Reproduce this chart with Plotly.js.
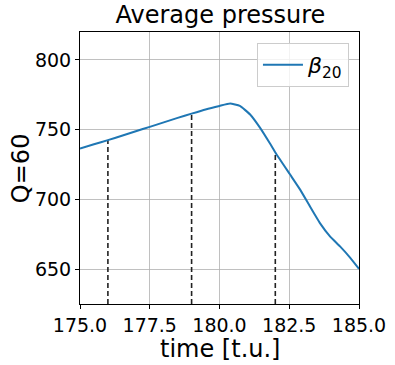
<!DOCTYPE html>
<html>
<head>
<meta charset="utf-8">
<script src="https://cdn.plot.ly/plotly-3.0.1.min.js"></script>
<style>
  html, body { margin: 0; padding: 0; background: #fff; }
  #chart { width: 395px; height: 365px; }
</style>
</head>
<body>
<div id="chart"></div>
<script>
// Average pressure curve
const time = [175.0, 175.5, 176.0, 176.5, 177.0, 177.5, 178.0, 178.5, 179.0, 179.5,
              180.0, 180.38, 180.73, 181.09, 181.45, 181.81, 182.03, 182.53, 182.89,
              183.24, 183.6, 183.96, 184.32, 184.68, 185.0];
const pressure = [736.5, 739.5, 742.5, 745.6, 748.8, 752.0, 755.2, 758.4, 761.5, 764.5,
                  767.0, 768.7, 767.0, 761.0, 751.4, 740.0, 732.7, 717.8, 707.0,
                  695.0, 683.0, 673.5, 666.3, 658.3, 650.2];

// dashed markers: time and the curve value they reach up to
const markTimes = [176, 179, 182];
const markValues = [742.5, 761.5, 732.5];

const yRange = [625, 820];
const xRange = [175, 185];

const traces = [];

markTimes.forEach((t, i) => {
    traces.push({
        x: [t, t],
        y: [yRange[0], markValues[i]],
        mode: 'lines',
        line: { color: '#222222', width: 1.6, dash: '5px,3px' },
        showlegend: false,
        hoverinfo: 'skip'
    });
});

traces.push({
    x: time,
    y: pressure,
    mode: 'lines',
    name: '<i>β</i><sub>20</sub>',
    line: { color: '#1f77b4', width: 2, shape: 'spline', smoothing: 0.4 }
});

const axisFont = { family: 'DejaVu Sans', size: 19, color: '#000' };
const labelFont = { family: 'DejaVu Sans', size: 24, color: '#000' };

const layout = {
    width: 395,
    height: 365,
    margin: { l: 80, r: 36, t: 32, b: 61 },
    paper_bgcolor: '#fff',
    plot_bgcolor: '#fff',
    font: { family: 'DejaVu Sans', color: '#000' },
    title: {
        text: 'Average pressure',
        font: labelFont,
        x: 0.558, xanchor: 'center',
        y: 0.982, yanchor: 'top'
    },
    xaxis: {
        range: xRange,
        tickvals: [175, 177.5, 180, 182.5, 185],
        ticktext: ['175.0', '177.5', '180.0', '182.5', '185.0'],
        tickfont: axisFont,
        ticks: 'outside', ticklen: 4, tickcolor: '#000',
        showgrid: true, gridcolor: '#b0b0b0', gridwidth: 0.8,
        showline: true, linecolor: '#000', linewidth: 1, mirror: true,
        zeroline: false
    },
    yaxis: {
        range: yRange,
        tickvals: [650, 700, 750, 800],
        tickfont: axisFont,
        ticks: 'outside', ticklen: 4, tickcolor: '#000',
        showgrid: true, gridcolor: '#b0b0b0', gridwidth: 0.8,
        showline: true, linecolor: '#000', linewidth: 1, mirror: true,
        zeroline: false
    },
    // axis titles placed as annotations to match the original spacing
    annotations: [
        { text: 'time [t.u.]', font: labelFont, showarrow: false,
          xref: 'paper', yref: 'paper', x: 0.5, y: -0.165, xanchor: 'center', yanchor: 'middle' },
        { text: 'Q=60', font: labelFont, showarrow: false, textangle: -90,
          xref: 'paper', yref: 'paper', x: -0.211, y: 0.5, xanchor: 'center', yanchor: 'middle' }
    ],
    legend: {
        x: 0.964, xanchor: 'right',
        y: 0.96, yanchor: 'top',
        bgcolor: 'rgba(255,255,255,0.8)',
        bordercolor: '#cccccc', borderwidth: 1,
        font: { family: 'DejaVu Sans', size: 22, color: '#000' },
        itemwidth: 40
    },
    showlegend: true
};

Plotly.newPlot('chart', traces, layout, { displayModeBar: false, staticPlot: true });
</script>
</body>
</html>
